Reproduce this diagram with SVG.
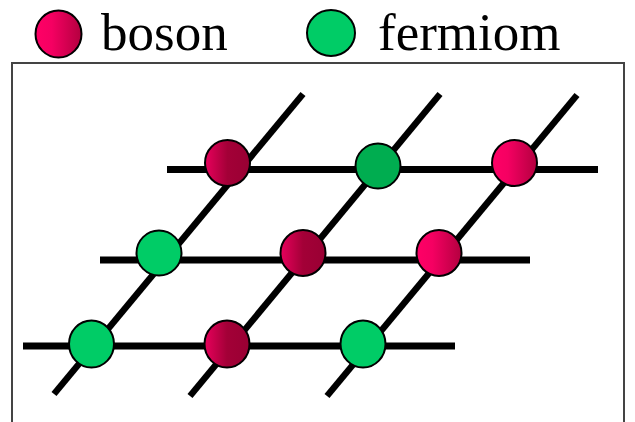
<svg xmlns="http://www.w3.org/2000/svg" width="635" height="422" viewBox="0 0 635 422">
  <style>
    .lbl { font-family: "Liberation Serif", "Times New Roman", serif; font-size: 53px; fill: #000; }
    .hline { stroke: #000; stroke-width: 7; stroke-linecap: butt; fill: none; }
    .dline { stroke: #000; stroke-width: 6.5; stroke-linecap: butt; fill: none; }
    .node { stroke: #000; stroke-width: 2; }
    .bosonL { fill: url(#gBright); }
    .bosonD { fill: url(#gDark); }
    .ferm { fill: #00cc66; }
    .fermD { fill: #00ad50; }
  </style>
  <defs>
    <linearGradient id="gBright" x1="0" y1="0" x2="1" y2="0">
      <stop offset="0" stop-color="#ff0066"/>
      <stop offset="0.35" stop-color="#f50062"/>
      <stop offset="1" stop-color="#b3003f"/>
    </linearGradient>
    <linearGradient id="gDark" x1="0" y1="0" x2="1" y2="0">
      <stop offset="0" stop-color="#e8005c"/>
      <stop offset="0.5" stop-color="#a30037"/>
      <stop offset="1" stop-color="#990033"/>
    </linearGradient>
  </defs>
  <rect width="635" height="422" fill="#fff"/>

  <g id="legend">
    <ellipse class="node bosonL" cx="58.5" cy="34" rx="23" ry="23.5"/>
    <text class="lbl" x="101" y="50">boson</text>
    <ellipse class="node ferm" cx="331" cy="33" rx="24" ry="23"/>
    <text class="lbl" x="378" y="50">fermiom</text>
  </g>

  <rect id="frame" x="12" y="63" width="612" height="380" fill="none" stroke="#444" stroke-width="2"/>

  <g id="connectors">
    <line class="hline" x1="167" y1="169.5" x2="598" y2="169.5"/>
    <line class="hline" x1="100" y1="260" x2="530" y2="260"/>
    <line class="hline" x1="23" y1="346" x2="455" y2="346"/>
    <line class="dline" x1="303" y1="94" x2="54" y2="394"/>
    <line class="dline" x1="440" y1="94" x2="190" y2="396"/>
    <line class="dline" x1="577" y1="95" x2="327" y2="396"/>
  </g>

  <g id="n11"><ellipse class="node bosonD" cx="227.5" cy="163" rx="22.5" ry="23"/></g>
  <g id="n12"><ellipse class="node fermD" cx="378" cy="166" rx="22.5" ry="22.5"/></g>
  <g id="n13"><ellipse class="node bosonL" cx="514.5" cy="163" rx="22.5" ry="23"/></g>
  <g id="n21"><ellipse class="node ferm" cx="159" cy="253" rx="22.5" ry="22.5"/></g>
  <g id="n22"><ellipse class="node bosonD" cx="303" cy="253" rx="22.5" ry="23"/></g>
  <g id="n23"><ellipse class="node bosonL" cx="439" cy="253" rx="22.5" ry="23"/></g>
  <g id="n31"><ellipse class="node ferm" cx="91.5" cy="344" rx="22.5" ry="23.5"/></g>
  <g id="n32"><ellipse class="node bosonD" cx="227" cy="344" rx="22.5" ry="23.5"/></g>
  <g id="n33"><ellipse class="node ferm" cx="363" cy="344" rx="22.5" ry="23.5"/></g>
</svg>
